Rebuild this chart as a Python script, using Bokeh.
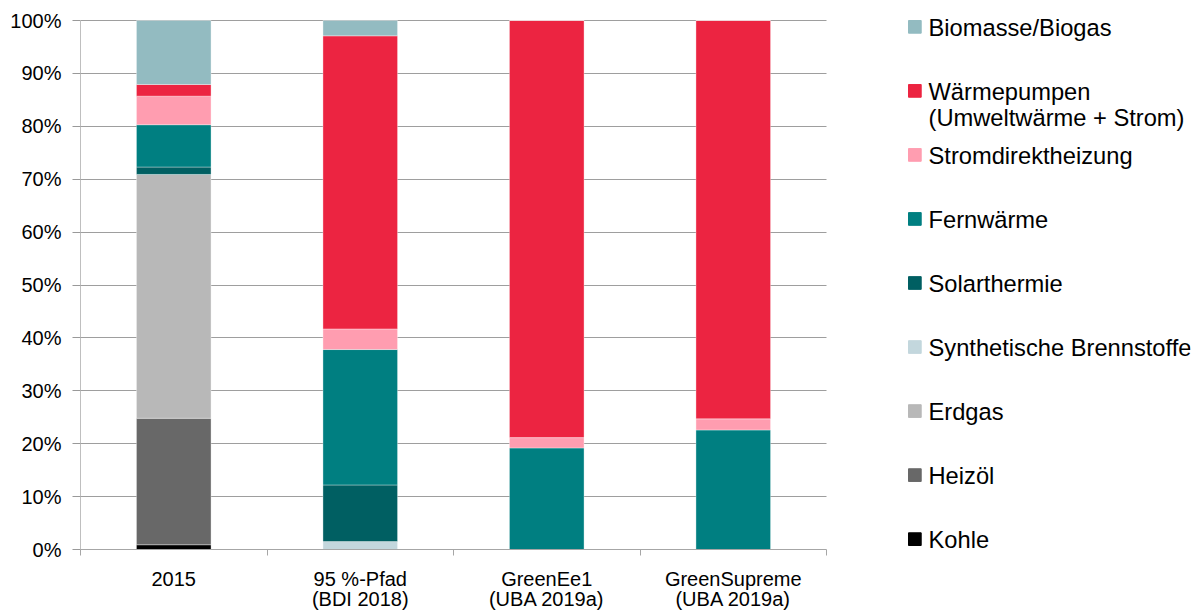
from bokeh.plotting import figure
from bokeh.models import (Range1d, FixedTicker, PrintfTickFormatter, ColumnDataSource, Grid)
from bokeh.core.properties import value
from bokeh.embed import file_html
from bokeh.resources import INLINE

# ---- data ----
categories = ["2015", "95 %-Pfad\n(BDI 2018)", "GreenEe1\n(UBA 2019a)", "GreenSupreme\n(UBA 2019a)"]
kohle = [0.9, 0.0, 0.0, 0.0]
heizoel = [23.9, 0.0, 0.0, 0.0]
erdgas = [46.1, 0.0, 0.0, 0.0]
synthetisch = [0.0, 1.5, 0.0, 0.0]
solarthermie = [1.4, 10.7, 0.0, 0.0]
fernwaerme = [8.0, 25.6, 19.2, 22.6]
stromdirekt = [5.4, 3.9, 1.95, 2.1]
waermepumpen = [2.2, 55.4, 78.85, 75.3]
biomasse = [12.1, 2.9, 0.0, 0.0]

series_names = ["Kohle", "Heizöl", "Erdgas", "Synthetische Brennstoffe", "Solarthermie",
                "Fernwärme", "Stromdirektheizung", "Wärmepumpen\n(Umweltwärme + Strom)",
                "Biomasse/Biogas"]
series_values = [kohle, heizoel, erdgas, synthetisch, solarthermie, fernwaerme, stromdirekt,
                 waermepumpen, biomasse]
colors = ["#000000", "#686868", "#B8B8B8", "#C3D7DD", "#005F62", "#007F81", "#FF9DB0",
          "#EC2441", "#93BBC1"]
y_ticks = list(range(0, 101, 10))

FONT = "Liberation Sans"

# ---- layout constants (pixels) ----
FRAME_LEFT = 80
PLOT_TOP, PLOT_BOTTOM = 20, 549   # pixel rows of 100 % and 0 %
PLOT_W = 746                      # width of the bar area
FRAME_W = 1110                    # frame continues to the right to hold the legend
n = len(categories)
px_per_cat = PLOT_W / n
px_per_pct = (PLOT_BOTTOM - PLOT_TOP) / 100.0
y_top = PLOT_BOTTOM / px_per_pct  # frame reaches the top edge of the page

p = figure(frame_width=FRAME_W, frame_height=PLOT_BOTTOM,
           x_range=Range1d(0, FRAME_W / px_per_cat), y_range=Range1d(0, y_top),
           output_backend="svg", toolbar_location=None,
           min_border_left=FRAME_LEFT, min_border_right=5,
           min_border_top=0, min_border_bottom=56)
p.outline_line_color = None
p.background_fill_color = "white"

xs = [i + 0.5 for i in range(n)]
keys = ["s%d" % i for i in range(len(series_names))]
data = {"x": xs}
for k, v in zip(keys, series_values):
    data[k] = v
source = ColumnDataSource(data)

p.vbar_stack(keys, x="x", width=0.40, source=source, color=colors,
             line_color="white", line_alpha=0.35, line_width=1)

# y axis (limited to 0..100 %)
p.yaxis.bounds = (0, 100)
p.yaxis.ticker = FixedTicker(ticks=y_ticks)
p.yaxis.formatter = PrintfTickFormatter(format="%d%%")
p.yaxis.axis_line_color = "#BFBFBF"
p.yaxis.major_tick_line_color = "#999999"
p.yaxis.major_tick_out = 8
p.yaxis.major_tick_in = 0
p.yaxis.minor_tick_line_color = None
p.yaxis.major_label_standoff = 11
p.yaxis.major_label_text_font = FONT
p.yaxis.major_label_text_font_size = "20px"
p.yaxis.major_label_text_color = "#000000"

# x axis (limited to the bar area)
p.xaxis.bounds = (0, n)
p.xaxis.ticker = FixedTicker(ticks=xs, minor_ticks=list(range(0, n + 1)))
p.xaxis.major_label_overrides = {x: c for x, c in zip(xs, categories)}
p.xaxis.axis_line_color = "#A6A6A6"
p.xaxis.major_tick_line_color = None
p.xaxis.major_tick_out = 0
p.xaxis.major_tick_in = 0
p.xaxis.minor_tick_line_color = "#A6A6A6"
p.xaxis.minor_tick_out = 6
p.xaxis.minor_tick_in = 0
p.xaxis.major_label_standoff = 12
p.xaxis.major_label_text_font = FONT
p.xaxis.major_label_text_font_size = "20px"
p.xaxis.major_label_text_color = "#000000"
p.xaxis.major_label_text_line_height = 0.92

p.xgrid.grid_line_color = None
if "cross_bounds" in Grid.properties():
    p.ygrid.cross_bounds = (0, n)
    p.ygrid.grid_line_color = "#9E9E9E"
    p.ygrid.grid_line_width = 1
else:
    p.ygrid.grid_line_color = None
    p.segment(x0=[0] * len(y_ticks), x1=[n] * len(y_ticks), y0=y_ticks, y1=y_ticks,
              line_color="#9E9E9E", line_width=1, level="underlay")

# ---- legend, drawn in the right part of the frame ----
def dx(px):
    return (px - FRAME_LEFT) / px_per_cat


def dy(py):
    return (PLOT_BOTTOM - py) / px_per_pct


first_baseline, last_baseline, line_gap = 36.7, 549.0, 26.7
TEXT_SHIFT = 9.5        # compensates the renderer's baseline placement
sq_left, sq_size, text_left = 908, 12.7, 928
order = list(range(len(series_names)))[::-1]
step = (last_baseline - first_baseline) / (len(order) - 1)

sq = dict(x=[], y=[], color=[])
tx = dict(x=[], y=[], text=[])
for i, idx in enumerate(order):
    base = first_baseline + i * step
    sq["x"].append(dx(sq_left + sq_size / 2))
    sq["y"].append(dy(base - 4 - sq_size / 2))
    sq["color"].append(colors[idx])
    for j, line in enumerate(series_names[idx].split("\n")):
        tx["x"].append(dx(text_left))
        tx["y"].append(dy(base + j * line_gap - TEXT_SHIFT))
        tx["text"].append(line)

p.rect(x="x", y="y", width=sq_size / px_per_cat, height=sq_size / px_per_pct,
       color="color", source=ColumnDataSource(sq))
p.text(x="x", y="y", text="text", source=ColumnDataSource(tx), text_font=value(FONT),
       text_font_size="23.7px", text_baseline="alphabetic", text_align="left",
       text_color="#000000")

open("out.html", "w").write(file_html(p, INLINE))
